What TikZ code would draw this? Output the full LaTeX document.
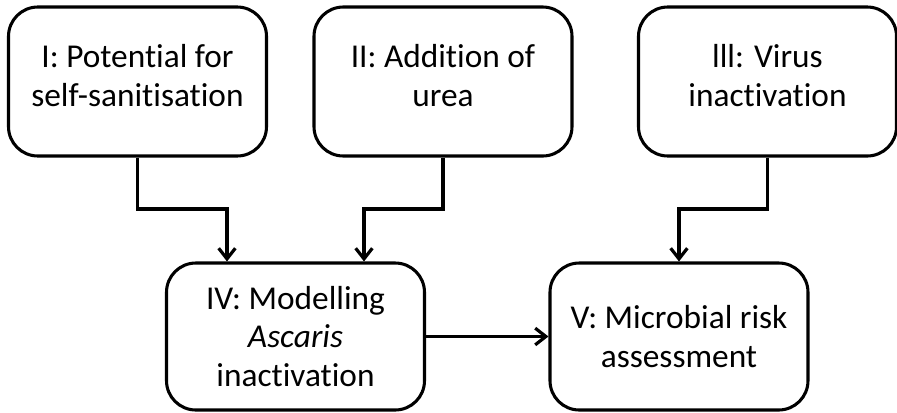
\documentclass[tikz,border=0pt]{standalone}
\usepackage{fontspec}
\setmainfont[Ligatures={NoCommon}]{Carlito}
\usetikzlibrary{arrows.meta}

\tikzset{every picture/.style={line width=0.75pt}}
\tikzset{
	stagebox/.style={draw, line width=2.3pt, rounded corners=22pt, align=center, inner sep=0pt,
		minimum width=193.5pt, minimum height=111.75pt, font=\fontsize{25}{29}\selectfont},
	flow/.style={line width=2.4pt, -{Straight Barb[length=8pt,width=12.5pt,line width=2.4pt]}}
}

\begin{document}
\begin{tikzpicture}[x=0.75pt,y=0.75pt,yscale=-1,xscale=1]
		\useasboundingbox (0,0) rectangle (897,412);
		
		%Rounded Rect: top row
		\node [stagebox] (stageI) at (137.5,81.5) {I: Potential for\\self-sanitisation\\[-20pt]};
		\node [stagebox] (stageII) at (443,81.5) {II: Addition of\\urea\\[-20pt]};
		\node [stagebox] (stageIII) at (767.5,81.5) {lll: Virus\\inactivation\\[-20pt]};
		%Rounded Rect: bottom row
		\node [stagebox, minimum height=110.25pt] (stageIV) at (295.5,336.5) {IV: Modelling\\\textit{Ascaris}\\inactivation};
		\node [stagebox, minimum height=110.25pt] (stageV) at (679,336.5) {V: Microbial risk\\assessment};
		
		%Elbow points
		\coordinate (mergeA) at (227,209);
		\coordinate (mergeB) at (364,209);
		\coordinate (mergeC) at (679,209);
		
		%Connectors
		\draw [flow] (stageI.south) |- (mergeA) -- (mergeA |- stageIV.north);
		\draw [flow] (stageII.south) |- (mergeB) -- (mergeB |- stageIV.north);
		\draw [flow] (stageIII.south) |- (mergeC) -- (stageV.north);
		\draw [flow] (stageIV.east) -- (stageV.west);
		
\end{tikzpicture}
\end{document}
